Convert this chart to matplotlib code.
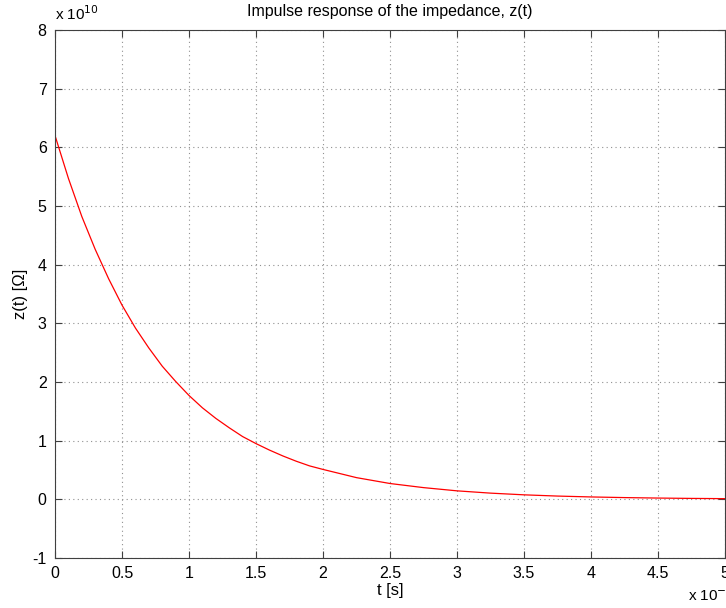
import matplotlib
matplotlib.use("Agg")
import matplotlib.pyplot as plt
from matplotlib.ticker import FuncFormatter, MultipleLocator

plt.rcParams["font.family"] = ["Liberation Sans", "DejaVu Sans"]

# time in seconds, impedance in ohms
t_ns = [0.0, 0.1, 0.2, 0.3, 0.4, 0.5, 0.6, 0.7, 0.8, 0.9, 1.0,
        1.1, 1.2, 1.3, 1.4, 1.5, 1.6, 1.7, 1.8, 1.9, 2.0,
        2.25, 2.5, 2.75, 3.0, 3.25, 3.5, 3.75, 4.0, 4.25, 4.5, 4.75, 5.0]
z_e10 = [6.20, 5.47, 4.82, 4.26, 3.76, 3.31, 2.92, 2.58, 2.27, 2.01, 1.77,
         1.56, 1.38, 1.22, 1.07, 0.95, 0.84, 0.74, 0.65, 0.57, 0.51,
         0.37, 0.27, 0.20, 0.145, 0.106, 0.077, 0.056, 0.041, 0.030, 0.022, 0.016, 0.012]

t = [v * 1e-9 for v in t_ns]
z = [v * 1e10 for v in z_e10]

fig = plt.figure(figsize=(7.26, 6.08), dpi=100)
ax = fig.add_axes([0.0758, 0.0822, 0.9228, 0.8685])

ax.plot(t, z, color="red", linewidth=0.9)

ax.set_xlim(0, 5e-9)
ax.set_ylim(-1e10, 8e10)
ax.xaxis.set_major_locator(MultipleLocator(0.5e-9))
ax.yaxis.set_major_locator(MultipleLocator(1e10))
ax.xaxis.set_major_formatter(FuncFormatter(lambda v, p: "%g" % round(v / 1e-9, 3)))
ax.yaxis.set_major_formatter(FuncFormatter(lambda v, p: "%g" % round(v / 1e10, 3)))

ax.grid(True, linestyle=(0, (1, 3)), color="#909090", linewidth=0.8)
ax.tick_params(direction="in", top=True, right=True, labelsize=11.5, length=5,
               color="#404040", pad=6)
for s in ax.spines.values():
    s.set_color("#404040")

ax.set_title("Impulse response of the impedance, z(t)", fontsize=11.5, pad=10)
ax.set_xlabel("t [s]", fontsize=12, labelpad=1)
ax.set_ylabel("z(t) [\u03a9]", fontsize=12, labelpad=3)

fig.text(0.0758, 0.962, "x 10$^{10}$", fontsize=11, ha="left", va="bottom")
fig.text(0.947, 0.006, "x 10$^{-9}$", fontsize=11, ha="left", va="bottom")

fig.savefig("out.png", dpi=100)
